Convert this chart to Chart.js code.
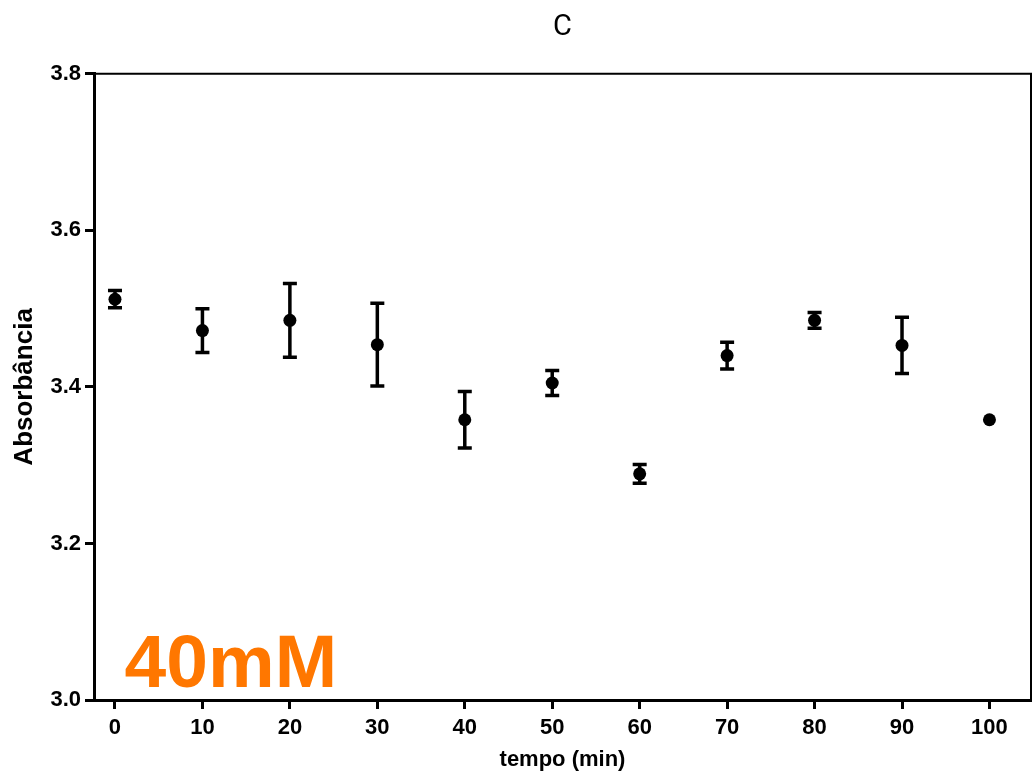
<!DOCTYPE html>
<html>
<head>
<meta charset="utf-8">
<script src="https://cdn.jsdelivr.net/npm/chart.js@4/dist/chart.umd.min.js"></script>
<style>
  html, body { margin: 0; padding: 0; background: #fff; overflow: hidden; }
  #wrap { width: 1032px; height: 778px; }
  canvas { display: block; }
</style>
</head>
<body>
<div id="wrap"><canvas id="myChart"></canvas></div>
<script>
// data
const tempo = [0, 10, 20, 30, 40, 50, 60, 70, 80, 90, 100];
const absorbancia = [3.512, 3.472, 3.485, 3.454, 3.358, 3.405, 3.289, 3.440, 3.485, 3.453, 3.358];
const erro = [0.011, 0.028, 0.047, 0.053, 0.036, 0.016, 0.012, 0.017, 0.010, 0.036, 0];
const xTicks = [0, 10, 20, 30, 40, 50, 60, 70, 80, 90, 100];
const yTicks = [3.0, 3.2, 3.4, 3.6, 3.8];

const tickFont = { family: '"Liberation Sans", Arial, sans-serif', size: 22, weight: 'bold' };

// vertical error bars with caps
const errorBars = {
    id: 'errorBars',
    afterDatasetsDraw(chart) {
        const ctx = chart.ctx;
        const xs = chart.scales.x;
        const ys = chart.scales.y;
        ctx.save();
        ctx.strokeStyle = '#000';
        ctx.lineWidth = 3.5;
        tempo.forEach((t, i) => {
            if (!erro[i]) return;
            const px = xs.getPixelForValue(t);
            const top = ys.getPixelForValue(absorbancia[i] + erro[i]);
            const bot = ys.getPixelForValue(absorbancia[i] - erro[i]);
            ctx.beginPath();
            ctx.moveTo(px, top);
            ctx.lineTo(px, bot);
            ctx.moveTo(px - 7, top);
            ctx.lineTo(px + 7, top);
            ctx.moveTo(px - 7, bot);
            ctx.lineTo(px + 7, bot);
            ctx.stroke();
        });
        ctx.restore();
    }
};

// thin top/right frame + the orange label
const frameAndLabel = {
    id: 'frameAndLabel',
    afterDraw(chart) {
        const ctx = chart.ctx;
        const a = chart.chartArea;
        ctx.save();
        ctx.strokeStyle = '#000';
        ctx.lineWidth = 2;
        ctx.beginPath();
        ctx.moveTo(a.left, a.top);
        ctx.lineTo(a.right, a.top);
        ctx.lineTo(a.right, a.bottom);
        ctx.stroke();

        ctx.fillStyle = '#FF7700';
        ctx.font = 'bold 75px "Liberation Sans", Arial, sans-serif';
        ctx.textAlign = 'left';
        ctx.textBaseline = 'alphabetic';
        ctx.fillText('40mM', chart.scales.x.getPixelForValue(1.1), chart.scales.y.getPixelForValue(3.016));
        ctx.restore();
    }
};

const ctx = document.getElementById('myChart').getContext('2d');
new Chart(ctx, {
    type: 'scatter',
    data: {
        datasets: [{
            data: tempo.map((t, i) => ({ x: t, y: absorbancia[i] })),
            pointRadius: 6.5,
            pointHoverRadius: 6.5,
            pointBackgroundColor: '#000',
            pointBorderColor: '#000',
            borderWidth: 0
        }]
    },
    options: {
        responsive: true,
        maintainAspectRatio: false,
        animation: false,
        layout: { autoPadding: false, padding: { left: 0, right: 1, top: 0, bottom: 0 } },
        scales: {
            x: {
                type: 'linear',
                min: -2.4,
                max: 104.75,
                afterBuildTicks: s => { s.ticks = xTicks.map(v => ({ value: v })); },
                afterFit: s => { s.height = 78; s.paddingLeft = 0; s.paddingRight = 0; },
                grid: { drawOnChartArea: false, drawTicks: true, tickLength: 9, tickWidth: 3, tickColor: '#000' },
                border: { display: true, color: '#000', width: 3 },
                ticks: { color: '#000', font: tickFont, padding: 6, maxRotation: 0 },
                title: {
                    display: true,
                    text: 'tempo (min)',
                    color: '#000',
                    font: tickFont,
                    padding: { top: 0, bottom: 5 }
                }
            },
            y: {
                type: 'linear',
                min: 3.0,
                max: 3.8,
                afterBuildTicks: s => { s.ticks = yTicks.map(v => ({ value: v })); },
                afterFit: s => { s.width = 94; s.paddingTop = 0; s.paddingBottom = 0; },
                grid: { drawOnChartArea: false, drawTicks: true, tickLength: 9, tickWidth: 3, tickColor: '#000' },
                border: { display: true, color: '#000', width: 3 },
                ticks: { color: '#000', font: tickFont, padding: 4, callback: v => v.toFixed(1) },
                title: {
                    display: true,
                    text: 'Absorbância',
                    color: '#000',
                    font: { family: '"Liberation Sans", Arial, sans-serif', size: 26, weight: 'bold' },
                    padding: { top: 9, bottom: 0 }
                }
            }
        },
        plugins: {
            legend: { display: false },
            tooltip: { enabled: false },
            title: {
                display: true,
                fullSize: false,
                text: 'C',
                color: '#000',
                font: { family: 'Roboto, "Liberation Sans", sans-serif', size: 29, weight: 'normal' },
                padding: { top: 10, bottom: 29 }
            }
        }
    },
    plugins: [errorBars, frameAndLabel]
});
</script>
</body>
</html>
